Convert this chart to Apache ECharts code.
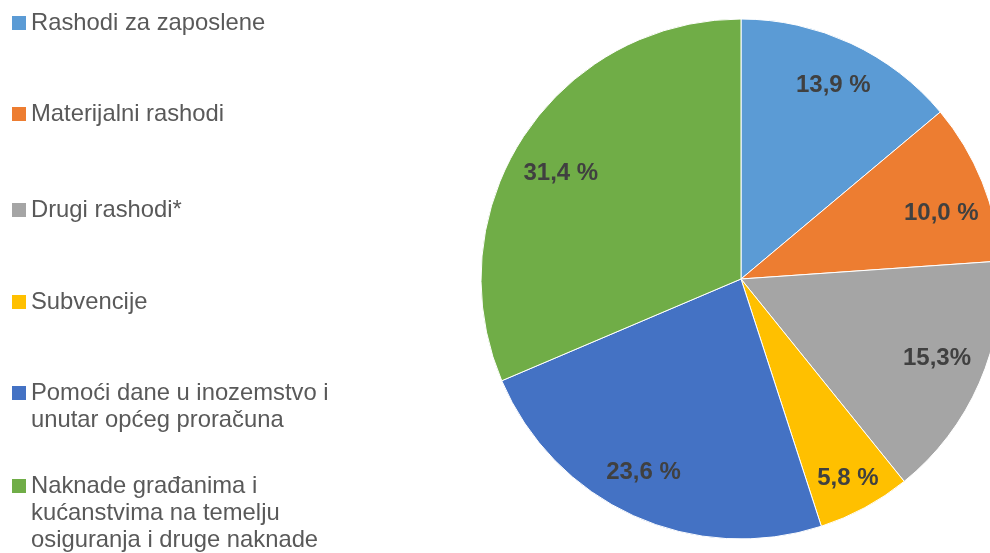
<!DOCTYPE html>
<html>
<head>
<meta charset="utf-8">
<script src="https://cdn.jsdelivr.net/npm/echarts@6/dist/echarts.min.js"></script>
<style>
  html, body { margin: 0; padding: 0; background: #fff; }
  #chart { width: 990px; height: 553px; }
</style>
</head>
<body>
<div id="chart"></div>
<script>
// kategorije rashoda (redom u smjeru kazaljke od vrha)
const names = [
  'Rashodi za zaposlene',
  'Materijalni rashodi',
  'Drugi rashodi*',
  'Subvencije',
  'Pomoći dane u inozemstvo i unutar općeg proračuna',
  'Naknade građanima i kućanstvima na temelju osiguranja i druge naknade'
];
const legendLabels = [
  'Rashodi za zaposlene',
  'Materijalni rashodi',
  'Drugi rashodi*',
  'Subvencije',
  'Pomoći dane u inozemstvo i\nunutar općeg proračuna',
  'Naknade građanima i\nkućanstvima na temelju\nosiguranja i druge naknade'
];
const shares = [13.9, 10.0, 15.3, 5.8, 23.6, 31.4];
const shareLabels = ['13,9 %', '10,0 %', '15,3%', '5,8 %', '23,6 %', '31,4 %'];
const colors = ['#5B9BD5', '#ED7D31', '#A5A5A5', '#FFC000', '#4472C4', '#70AD47'];

// ručni pomaci oznaka (kao u izvornom grafikonu)
const labelNudge = [[1, 2], [0, 15], [-2, -7], [4, 9], [-8, -3], [0, 14]];

const chart = echarts.init(document.getElementById('chart'));

const FONT = '"Liberation Sans", Arial, sans-serif';
const LINE_H = 27;
const legendTops = [9.5, 100.5, 196.5, 288.5, 379.5, 472.5];

// kvadratić poravnat s prvim retkom teksta
function iconHeight(label) {
  const lines = label.split('\n').length;
  return 14 + (lines - 1) * LINE_H;
}
function iconFor(label) {
  if (label.indexOf('\n') < 0) return 'rect';
  const h = iconHeight(label);
  return 'path://M0,0h14v14h-14z M0,' + h + 'L14,' + h;
}

const legends = names.map((name, i) => ({
  orient: 'vertical',
  left: 12,
  top: legendTops[i],
  padding: 0,
  itemWidth: 14,
  itemHeight: iconHeight(legendLabels[i]),
  icon: iconFor(legendLabels[i]),
  itemStyle: { borderWidth: 0 },
  selectedMode: false,
  data: [name],
  formatter: n => legendLabels[names.indexOf(n)],
  textStyle: {
    fontFamily: FONT,
    fontSize: 23.8,
    lineHeight: LINE_H,
    color: '#595959'
  }
}));

const pieData = names.map((name, i) => ({
  name: name,
  value: shares[i],
  itemStyle: { color: colors[i] }
}));

const option = {
  animation: false,
  legend: legends,
  series: [
    {
      type: 'pie',
      center: [741, 279],
      radius: [0, 260],
      startAngle: 90,
      clockwise: true,
      silent: true,
      itemStyle: { borderColor: '#fff', borderWidth: 1 },
      label: { show: false },
      labelLine: { show: false },
      data: pieData
    },
    {
      // prozirni prsten samo za oznake postotaka
      type: 'pie',
      center: [741, 279],
      radius: [166, 260],
      startAngle: 90,
      clockwise: true,
      silent: true,
      itemStyle: { color: 'rgba(0,0,0,0)', borderWidth: 0 },
      label: {
        show: true,
        position: 'inside',
        formatter: p => shareLabels[p.dataIndex],
        fontFamily: FONT,
        fontSize: 24,
        fontWeight: 'bold',
        color: '#404040'
      },
      labelLayout: p => ({ dx: labelNudge[p.dataIndex][0], dy: labelNudge[p.dataIndex][1] }),
      labelLine: { show: false },
      data: names.map((name, i) => ({ name: name, value: shares[i] }))
    }
  ]
};

chart.setOption(option);
</script>
</body>
</html>
